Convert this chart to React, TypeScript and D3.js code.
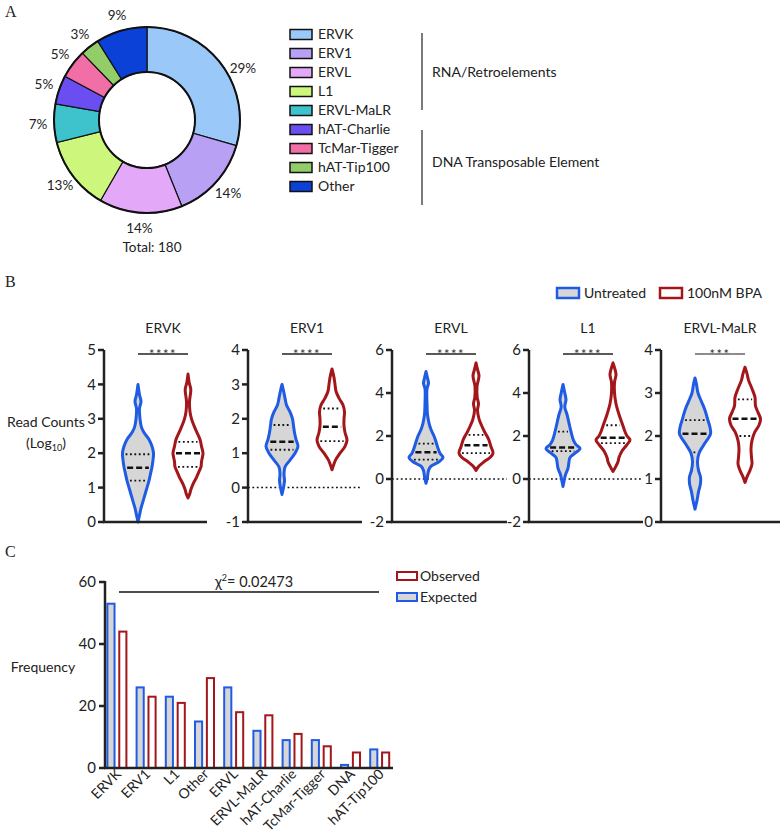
import React from "react";
import * as d3 from "d3";

const FONT = "Lato, 'Open Sans', sans-serif";
const SERIF = "'Liberation Serif', 'DejaVu Serif', serif";
const INK = "#222";
const BLUE = "#1f5be3";
const RED = "#a3161a";
const GREY = "#d6d6d6";

// ---- panel A data
const families = ["ERVK", "ERV1", "ERVL", "L1", "ERVL-MaLR", "hAT-Charlie", "TcMar-Tigger", "hAT-Tip100", "Other"];
const familyCounts = [53, 26, 26, 23, 12, 9, 9, 6, 16];
const familyColors = ["#9ac8f9", "#b8a0f4", "#e4a8f8", "#ccf77c", "#3ec3cd", "#6b4ef2", "#f26ea6", "#93cd6a", "#0b41d6"];
const groupLabels = ["RNA/Retroelements", "DNA Transposable Element"];

// ---- panel B data
const violinTitles = ["ERVK", "ERV1", "ERVL", "L1", "ERVL-MaLR"];
const violinDomains = [[0, 5], [-1, 4], [-2, 6], [-2, 6], [0, 4]];
const violinTicks = [[0, 1, 2, 3, 4, 5], [-1, 0, 1, 2, 3, 4], [-2, 0, 2, 4, 6], [-2, 0, 2, 4, 6], [0, 1, 2, 3, 4]];
const significance = ["****", "****", "****", "****", "***"];
const treatments = ["Untreated", "100nM BPA"];

// [log10 read count, relative density]
const untreatedProfiles = [
  [[0, 0], [0.2, 1.5], [0.4, 3], [0.6, 5], [0.8, 7], [1.0, 9], [1.2, 11], [1.4, 12.5], [1.6, 14], [1.8, 15], [2.0, 15.5], [2.2, 14], [2.4, 11], [2.6, 6], [2.75, 3.5], [3.0, 2], [3.3, 1.5], [3.5, 3], [3.7, 1.5], [4.0, 0]],
  [[-0.2, 0], [0, 1.5], [0.2, 2.5], [0.4, 2], [0.6, 3], [0.8, 8], [1.0, 13], [1.2, 16], [1.4, 14], [1.6, 12.5], [1.8, 11.5], [2.0, 10.5], [2.2, 8], [2.4, 4.5], [2.6, 3], [2.75, 2], [3.0, 0]],
  [[-0.2, 0], [0.1, 1.5], [0.4, 2.5], [0.6, 5], [0.8, 13], [1.0, 17], [1.2, 14], [1.5, 11.5], [1.8, 9.5], [2.0, 8], [2.3, 5], [2.6, 3], [3.0, 1.5], [3.5, 1], [4.2, 1], [4.45, 2.5], [4.7, 1.5], [5.0, 0]],
  [[-0.35, 0], [0, 1.5], [0.2, 2.5], [0.5, 5], [0.8, 6], [1.0, 7], [1.2, 12], [1.42, 17], [1.6, 13], [1.8, 10.5], [2.2, 8], [2.6, 6], [3.0, 4], [3.35, 1.8], [3.7, 3], [4.0, 1.8], [4.4, 0]],
  [[0.3, 0], [0.5, 2], [0.7, 3.5], [0.9, 5.5], [1.05, 5.5], [1.2, 3.5], [1.4, 2.5], [1.6, 4], [1.8, 9], [2.05, 15.5], [2.2, 15], [2.4, 12.5], [2.6, 10], [2.8, 6.5], [3.0, 3], [3.2, 1.5], [3.35, 0]],
];
const bpaProfiles = [
  [[0.7, 0], [0.8, 1.5], [0.95, 3], [1.1, 5], [1.3, 8.5], [1.5, 11.5], [1.6, 13], [1.75, 13.5], [1.9, 14.5], [2.0, 15], [2.2, 13.5], [2.4, 12], [2.6, 9], [2.8, 6], [3.0, 3.5], [3.2, 2], [3.5, 1.5], [3.85, 2.8], [4.05, 1.2], [4.3, 0]],
  [[0.52, 0], [0.65, 1.5], [0.8, 3.5], [1.0, 8], [1.2, 13], [1.38, 15], [1.6, 13], [1.8, 12], [2.0, 12], [2.2, 12.5], [2.4, 11], [2.6, 7], [2.8, 4], [3.0, 3], [3.2, 2], [3.45, 0]],
  [[0.4, 0], [0.6, 3], [0.8, 8], [1.0, 14], [1.2, 17], [1.5, 15], [1.8, 13], [2.0, 11], [2.2, 8.5], [2.5, 5.5], [2.8, 3], [3.2, 1.5], [3.5, 2.5], [3.8, 1.2], [4.3, 1], [4.8, 3], [5.1, 1.5], [5.4, 0]],
  [[0.35, 0], [0.6, 3], [0.8, 5], [1.0, 6], [1.3, 9], [1.6, 14], [1.82, 17], [2.0, 14], [2.2, 12], [2.6, 9], [3.0, 6], [3.5, 3], [4.0, 1.5], [4.5, 1.5], [4.85, 3], [5.1, 2], [5.4, 0]],
  [[0.92, 0], [1.05, 2], [1.2, 5], [1.35, 7], [1.5, 6.5], [1.7, 6], [1.9, 7], [2.1, 10], [2.25, 14], [2.4, 15.5], [2.55, 13], [2.7, 10.5], [2.9, 10], [3.1, 7], [3.3, 3.5], [3.45, 2], [3.6, 0]],
];
// [Q1, median, Q3]
const untreatedQuartiles = [[1.2, 1.58, 1.97], [1.1, 1.33, 1.82], [0.9, 1.25, 1.65], [1.3, 1.47, 2.2], [1.62, 2.05, 2.37]];
const bpaQuartiles = [[1.6, 2.0, 2.33], [1.35, 1.77, 2.3], [1.2, 1.57, 2.05], [1.67, 1.92, 2.5], [2.0, 2.4, 2.85]];

// ---- panel C data
const categories = ["ERVK", "ERV1", "L1", "Other", "ERVL", "ERVL-MaLR", "hAT-Charlie", "TcMar-Tigger", "DNA", "hAT-Tip100"];
const expected = [53, 26, 23, 15, 26, 12, 9, 9, 1, 6];
const observed = [44, 23, 21, 29, 18, 17, 11, 7, 5, 5];
const chiSquare = "0.02473";

const DonutPanel = () => {
  const cx = 147, cy = 120;
  const total = d3.sum(familyCounts);
  const pie = d3.pie<number>().sort(null).value((d) => d);
  const arcs = pie(familyCounts);
  const arc = d3.arc<d3.PieArcDatum<number>>().innerRadius(48).outerRadius(93);
  const labelArc = d3.arc<d3.PieArcDatum<number>>().innerRadius(109).outerRadius(109);
  const legendY = d3.scaleBand().domain(families).range([25, 196]);
  return (
    <g fontFamily={FONT} fill={INK}>
      <text x={5} y={17} fontFamily={SERIF} fontSize={16}>A</text>
      <g transform={`translate(${cx},${cy})`}>
        {arcs.map((a, i) => (
          <path key={i} d={arc(a) || ""} fill={familyColors[i]} stroke="#111" strokeWidth={1.2} />
        ))}
        <circle r={93} fill="none" stroke="#111" strokeWidth={2} />
        <circle r={48} fill="none" stroke="#111" strokeWidth={2} />
        {arcs.map((a, i) => {
          // first label sits a bit further round, as in the source figure
          const shift = i === 0 ? 0.15 : 0;
          const [lx, ly] = labelArc.centroid({ ...a, startAngle: a.startAngle + shift, endAngle: a.endAngle + shift });
          return (
            <text key={i} x={lx} y={ly} dy="0.35em" textAnchor="middle" fontSize={13.5}>
              {Math.round((familyCounts[i] / total) * 100)}%
            </text>
          );
        })}
        <text x={5} y={132} textAnchor="middle" fontSize={13.5}>Total: {total}</text>
      </g>
      {families.map((f, i) => {
        const y = (legendY(f) || 0) + legendY.bandwidth() / 2;
        return (
          <g key={f}>
            <rect x={290} y={y - 5} width={22} height={10} fill={familyColors[i]} stroke="#111" strokeWidth={1.5} />
            <text x={318} y={y} dy="0.35em" fontSize={14}>{f}</text>
          </g>
        );
      })}
      <line x1={422} x2={422} y1={33} y2={110} stroke={INK} strokeWidth={1.2} />
      <line x1={422} x2={422} y1={130} y2={205} stroke={INK} strokeWidth={1.2} />
      <text x={432} y={72} dy="0.35em" fontSize={14}>{groupLabels[0]}</text>
      <text x={432} y={162} dy="0.35em" fontSize={14}>{groupLabels[1]}</text>
    </g>
  );
};

const panelLeft = [104, 248, 392, 529, 661];
const panelRight = [207, 362, 507, 643, 780];

const Violin = ({ profile, quartiles, cx, y, color, fill }) => {
  const w = d3.scaleLinear().domain([0, 17]).range([0, 17]);
  const area = d3
    .area<number[]>()
    .y((d) => y(d[0]))
    .x0((d) => cx - w(d[1]))
    .x1((d) => cx + w(d[1]))
    .curve(d3.curveCatmullRom.alpha(0.5));
  const half = d3.scaleLinear().domain(profile.map((d) => d[0])).range(profile.map((d) => w(d[1]))).clamp(true);
  return (
    <g>
      <path d={area(profile) || ""} fill={fill} stroke={color} strokeWidth={3} strokeLinejoin="round" />
      {quartiles.map((q, i) => {
        const hw = Math.max(half(q) - 3, 1);
        return (
          <line
            key={i}
            x1={cx - hw}
            x2={cx + hw}
            y1={y(q)}
            y2={y(q)}
            stroke="#111"
            strokeWidth={i === 1 ? 2.5 : 1.8}
            strokeDasharray={i === 1 ? "6,3" : "1.8,2.6"}
          />
        );
      })}
    </g>
  );
};

const ViolinPanel = () => {
  const top = 350, bottom = 522;
  return (
    <g fontFamily={FONT} fill={INK}>
      <text x={5} y={287} fontFamily={SERIF} fontSize={16}>B</text>
      <rect x={557} y={288} width={22} height={10} fill={GREY} stroke={BLUE} strokeWidth={2.5} />
      <text x={584} y={293} dy="0.35em" fontSize={14}>{treatments[0]}</text>
      <rect x={660} y={288} width={22} height={10} fill="#fff" stroke={RED} strokeWidth={2.5} />
      <text x={687} y={293} dy="0.35em" fontSize={14}>{treatments[1]}</text>
      <text x={46} y={427} textAnchor="middle" fontSize={14}>Read Counts</text>
      <text x={46} y={448} textAnchor="middle" fontSize={14}>
        (Log<tspan fontSize={9} dy={3}>10</tspan><tspan dy={-3}>)</tspan>
      </text>
      {violinTitles.map((t, i) => {
        const y = d3.scaleLinear().domain(violinDomains[i]).range([bottom, top]);
        const x = d3.scalePoint().domain(treatments).range([panelLeft[i] + 34, panelLeft[i] + 84]);
        const x0 = panelLeft[i];
        const xu = x(treatments[0]) || 0;
        const xb = x(treatments[1]) || 0;
        return (
          <g key={t}>
            <text x={(xu + xb) / 2} y={333} textAnchor="middle" fontSize={14}>{t}</text>
            {violinDomains[i][0] < 0 && (
              <line x1={x0} x2={panelRight[i]} y1={y(0)} y2={y(0)} stroke="#111" strokeWidth={1.5} strokeDasharray="1.8,2.6" />
            )}
            <line x1={xu} x2={xb} y1={354} y2={354} stroke={i === 4 ? "#666" : "#222"} strokeWidth={1.3} />
            <text x={(xu + xb) / 2} y={359} textAnchor="middle" fontSize={13} letterSpacing={1.5} fill="#333">
              {significance[i]}
            </text>
            <Violin profile={untreatedProfiles[i]} quartiles={untreatedQuartiles[i]} cx={xu} y={y} color={BLUE} fill={GREY} />
            <Violin profile={bpaProfiles[i]} quartiles={bpaQuartiles[i]} cx={xb} y={y} color={RED} fill="#fff" />
            <line x1={x0} x2={x0} y1={top} y2={bottom} stroke={INK} strokeWidth={2.5} />
            <line x1={x0 - 1} x2={panelRight[i]} y1={bottom} y2={bottom} stroke={INK} strokeWidth={2.5} />
            {violinTicks[i].map((tk) => (
              <g key={tk}>
                <line x1={x0 - 6} x2={x0} y1={y(tk)} y2={y(tk)} stroke={INK} strokeWidth={2.5} />
                <text x={x0 - 8} y={y(tk)} dy="0.35em" textAnchor="end" fontSize={15}>{tk}</text>
              </g>
            ))}
          </g>
        );
      })}
    </g>
  );
};

const BarPanel = () => {
  const x = d3.scaleBand().domain(categories).range([102.4, 394.4]);
  const inner = d3.scaleBand().domain(["Expected", "Observed"]).range([5, 24]).paddingInner(0.4);
  const y = d3.scaleLinear().domain([0, 60]).range([768, 582]);
  const series = [
    { key: "Expected", values: expected, stroke: BLUE, fill: GREY },
    { key: "Observed", values: observed, stroke: RED, fill: "#fff" },
  ];
  return (
    <g fontFamily={FONT} fill={INK}>
      <text x={5} y={557} fontFamily={SERIF} fontSize={16}>C</text>
      {series.map((s) =>
        categories.map((c, i) => (
          <rect
            key={s.key + c}
            x={(x(c) || 0) + (inner(s.key) || 0)}
            y={y(s.values[i])}
            width={inner.bandwidth()}
            height={y(0) - y(s.values[i])}
            fill={s.fill}
            stroke={s.stroke}
            strokeWidth={2}
          />
        ))
      )}
      <line x1={119} x2={379} y1={592} y2={592} stroke="#111" strokeWidth={1.5} />
      <text x={254} y={587} textAnchor="middle" fontSize={14.5}>
        χ<tspan fontSize={9} dy={-6}>2</tspan><tspan dy={6}>= {chiSquare}</tspan>
      </text>
      <line x1={105} x2={105} y1={581} y2={768} stroke={INK} strokeWidth={2.5} />
      <line x1={104} x2={393} y1={768} y2={768} stroke={INK} strokeWidth={2.5} />
      {y.ticks(3).map((t) => (
        <g key={t}>
          <line x1={99} x2={105} y1={y(t)} y2={y(t)} stroke={INK} strokeWidth={2.5} />
          <text x={96} y={y(t)} dy="0.35em" textAnchor="end" fontSize={15}>{t}</text>
        </g>
      ))}
      {categories.map((c) => {
        const cx = (x(c) || 0) + x.bandwidth() / 2 + 5;
        return (
          <text key={c} transform={`translate(${cx},775) rotate(-45)`} textAnchor="end" fontSize={14}>
            {c}
          </text>
        );
      })}
      <text x={43} y={672} textAnchor="middle" fontSize={14}>Frequency</text>
      <rect x={397} y={572} width={20} height={8} fill="#fff" stroke={RED} strokeWidth={2} />
      <text x={420} y={576} dy="0.35em" fontSize={14}>Observed</text>
      <rect x={397} y={593} width={20} height={8} fill={GREY} stroke={BLUE} strokeWidth={2} />
      <text x={420} y={597} dy="0.35em" fontSize={14}>Expected</text>
    </g>
  );
};

export default function App() {
  return (
    <svg width={780} height={835} style={{ position: "absolute", left: 0, top: 0, background: "#fff" }}>
      <DonutPanel />
      <ViolinPanel />
      <BarPanel />
    </svg>
  );
}
